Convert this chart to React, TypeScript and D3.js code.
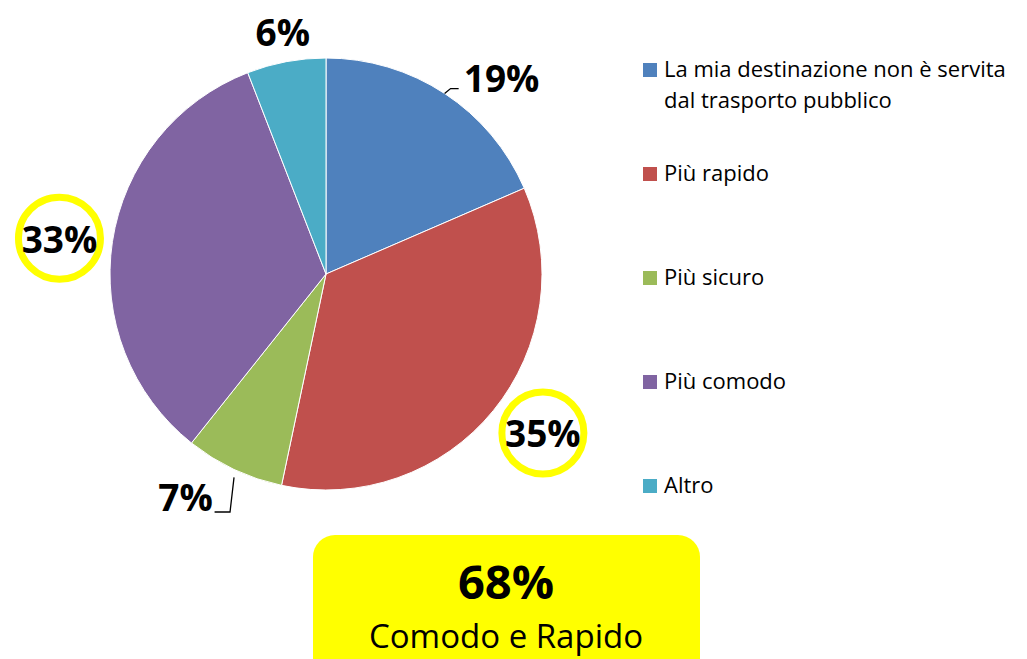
import React from 'react';
import * as d3 from 'd3';

const categories = [
  ['La mia destinazione non è servita', 'dal trasporto pubblico'],
  ['Più rapido'],
  ['Più sicuro'],
  ['Più comodo'],
  ['Altro'],
];
const values = [18.5, 34.8, 7.4, 33.4, 5.9];
const colors = ['#4F81BD', '#C0504D', '#9BBB59', '#8064A2', '#4BACC6'];
const highlighted = [false, true, false, true, false];
const summaryValue = '68%';
const summaryText = 'Comodo e Rapido';

const W = 1027;
const H = 659;
const FONT = '"Open Sans", "Noto Sans", sans-serif';

// label placement, relative to pie: angle shift (deg) and radius factor
const labelLayout = [
  { shift: 8.5, k: 1.22, leader: true },
  { shift: -3, k: 1.245, leader: false },
  { shift: 7, k: 1.22, leader: true },
  { shift: -1, k: 1.245, leader: false },
  { shift: 0.5, k: 1.14, leader: false },
];

export default function App() {
  const cx = 326;
  const cy = 274;
  const r = 216;

  const pie = d3.pie<number>().sort(null).value(d => d);
  const arcs = pie(values);
  const total = d3.sum(values);
  const arc = d3.arc<d3.PieArcDatum<number>>().innerRadius(0).outerRadius(r);

  const polar = (a: number, rad: number): [number, number] => [
    Math.sin(a) * rad,
    -Math.cos(a) * rad,
  ];

  const legendX = 643;
  const legendTop = 70;
  const legendStep = 104;

  return (
    <svg width={W} height={H} style={{ position: 'absolute', left: 0, top: 0, background: '#fff' }}>
      <g transform={`translate(${cx},${cy})`}>
        {arcs.map((a, i) => (
          <path key={i} d={arc(a) || ''} fill={colors[i]} stroke="#fff" strokeWidth={1} />
        ))}
        {arcs.map((a, i) => {
          const mid = (a.startAngle + a.endAngle) / 2;
          const lay = labelLayout[i];
          const la = mid + (lay.shift * Math.PI) / 180;
          const [lx, ly] = polar(la, r * lay.k);
          const label = `${Math.round((values[i] / total) * 100)}%`;
          let leader = null;
          if (lay.leader) {
            const [ex, ey] = polar(mid, r);
            const right = lx > ex;
            const tx = right ? lx - 43 : lx + 29;
            const ty = right ? ly + 11 : ly + 15;
            const kx = right ? ex + 6 : ex - 4;
            const pts = right
              ? [[ex, ey], [kx, ty], [tx, ty]]
              : [[ex, ey + 8], [kx, ty], [tx, ty]];
            leader = (
              <polyline
                points={pts.map(p => p.join(',')).join(' ')}
                fill="none"
                stroke="#000"
                strokeWidth={1.3}
              />
            );
          }
          return (
            <g key={'l' + i}>
              {leader}
              {highlighted[i] && (
                <circle cx={lx} cy={ly} r={41} fill="none" stroke="#FFFF00" strokeWidth={7} />
              )}
              <text
                x={lx}
                y={ly}
                textAnchor="middle"
                dominantBaseline="central"
                fontFamily={FONT}
                fontWeight="bold"
                fontSize={37}
                fill="#000"
              >
                {label}
              </text>
            </g>
          );
        })}
      </g>

      {categories.map((lines, i) => {
        const y = legendTop + i * legendStep;
        return (
          <g key={'lg' + i}>
            <rect x={legendX} y={y - 7} width={14} height={14} fill={colors[i]} />
            {lines.map((t, j) => (
              <text
                key={j}
                x={legendX + 21}
                y={y + 7 + j * 31}
                fontFamily={FONT}
                fontSize={22}
                fill="#000"
              >
                {t}
              </text>
            ))}
          </g>
        );
      })}

      <rect x={313} y={535} width={387} height={150} rx={22} fill="#FFFF00" />
      <text
        x={506}
        y={599}
        textAnchor="middle"
        fontFamily={FONT}
        fontWeight="bold"
        fontSize={47}
        fill="#000"
      >
        {summaryValue}
      </text>
      <text x={506} y={648} textAnchor="middle" fontFamily={FONT} fontSize={33} fill="#000">
        {summaryText}
      </text>
    </svg>
  );
}
